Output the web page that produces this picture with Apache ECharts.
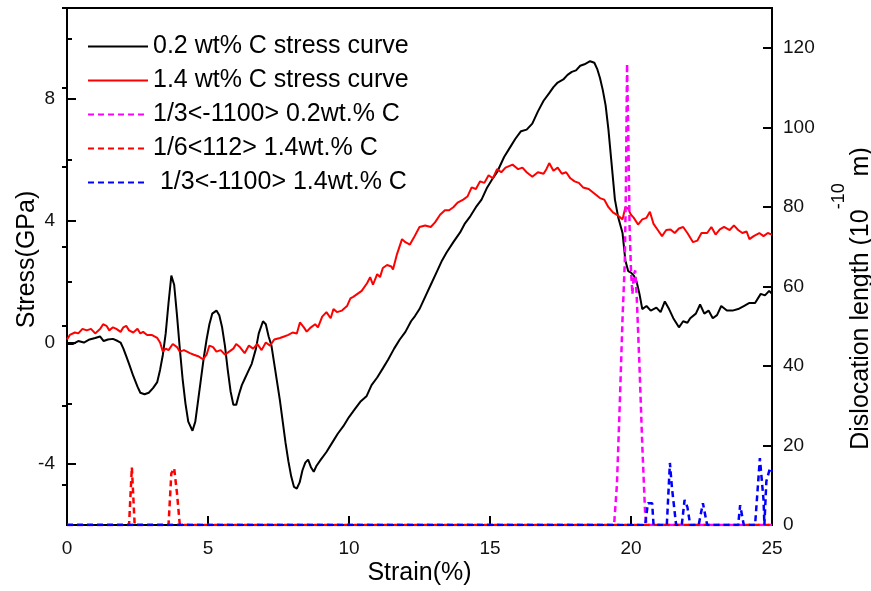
<!DOCTYPE html>
<html>
<head>
<meta charset="utf-8">
<script src="https://cdn.jsdelivr.net/npm/echarts@6/dist/echarts.min.js"></script>
<style>html,body{margin:0;padding:0;background:#fff}#c{width:871px;height:591px}</style>
</head>
<body>
<div id="c"></div>
<script>
// ---- data ----
const seriesNames = ['0.2 wt% C stress curve', '1.4 wt% C stress curve', '1/3<-1100> 0.2wt.% C', '1/6<112> 1.4wt.% C', ' 1/3<-1100> 1.4wt.% C'];

const strainBlack = [0,0.2,0.4,0.6,0.8,1.0,1.17,1.3,1.45,1.63,1.8,1.9,2.0,2.1,2.2,2.35,2.5,2.6,2.75,2.9,3.05,3.2,3.3,3.4,3.5,3.6,3.7,3.8,3.9,4.0,4.1,4.2,4.3,4.45,4.55,4.65,4.75,4.85,4.95,5.05,5.15,5.3,5.4,5.5,5.6,5.7,5.8,5.9,6.0,6.1,6.2,6.3,6.4,6.55,6.7,6.8,6.95,7.05,7.15,7.25,7.35,7.45,7.55,7.65,7.75,7.85,7.95,8.05,8.15,8.25,8.35,8.45,8.55,8.65,8.75,8.85,9.0,9.2,9.4,9.6,9.8,10.0,10.2,10.4,10.62,10.8,11.0,11.2,11.39,11.6,11.8,12.0,12.2,12.34,12.5,12.75,12.9,13.1,13.3,13.46,13.7,13.94,14.1,14.3,14.5,14.7,14.9,15.1,15.25,15.5,15.7,15.9,16.1,16.3,16.5,16.7,16.9,17.1,17.25,17.4,17.6,17.75,17.9,18.05,18.2,18.35,18.55,18.7,18.8,18.9,19.0,19.1,19.2,19.3,19.43,19.55,19.7,19.8,19.9,20.0,20.1,20.2,20.3,20.4,20.55,20.7,20.9,21.05,21.2,21.35,21.5,21.7,21.85,22.0,22.1,22.3,22.45,22.6,22.75,22.9,23.05,23.2,23.4,23.6,23.8,24.0,24.2,24.4,24.6,24.75,24.9,25.0];
const stressBlack = [-0.05,-0.05,0.05,0.0,0.1,0.15,0.2,0.05,0.1,0.12,0.05,0.0,-0.2,-0.45,-0.7,-1.1,-1.45,-1.65,-1.7,-1.65,-1.5,-1.3,-0.9,-0.4,0.3,1.3,2.2,1.9,0.9,-0.2,-1.2,-2.0,-2.6,-2.9,-2.6,-1.9,-1.2,-0.5,0.1,0.6,0.95,1.05,0.9,0.5,-0.1,-0.9,-1.6,-2.05,-2.05,-1.7,-1.4,-1.2,-1.0,-0.7,-0.2,0.3,0.7,0.6,0.2,-0.1,-0.7,-1.3,-1.9,-2.6,-3.3,-3.9,-4.4,-4.75,-4.8,-4.6,-4.2,-3.95,-3.85,-4.1,-4.25,-4.05,-3.85,-3.6,-3.3,-3.0,-2.75,-2.45,-2.2,-1.95,-1.77,-1.4,-1.15,-0.85,-0.56,-0.2,0.1,0.35,0.7,0.87,1.1,1.6,1.9,2.3,2.7,2.96,3.3,3.62,3.9,4.15,4.45,4.7,5.1,5.4,5.6,6.1,6.4,6.7,6.95,7.0,7.2,7.6,7.95,8.2,8.4,8.55,8.65,8.8,8.9,8.95,9.1,9.15,9.25,9.2,9.0,8.7,8.3,7.8,7.0,6.0,4.7,4.1,3.6,2.7,2.35,2.3,2.2,2.0,1.6,1.1,1.2,1.05,1.15,1.0,1.35,1.1,0.8,0.5,0.7,0.65,0.8,0.95,1.25,0.95,1.05,0.8,0.9,1.2,1.05,1.05,1.1,1.2,1.3,1.3,1.6,1.55,1.7,1.6];

const strainRed = [0,0.1,0.28,0.4,0.55,0.7,0.85,1.0,1.06,1.18,1.28,1.4,1.5,1.63,1.75,1.9,2.0,2.1,2.2,2.35,2.5,2.6,2.7,2.84,3.0,3.2,3.3,3.4,3.5,3.6,3.75,3.9,4.0,4.15,4.36,4.5,4.65,4.82,4.95,5.05,5.18,5.3,5.45,5.6,5.75,5.9,6.0,6.13,6.3,6.45,6.6,6.75,6.9,7.05,7.2,7.35,7.55,7.7,7.85,8.0,8.15,8.26,8.4,8.5,8.65,8.8,8.9,9.05,9.2,9.35,9.45,9.57,9.75,9.93,10.05,10.15,10.3,10.45,10.64,10.75,10.85,11.0,11.1,11.2,11.35,11.5,11.56,11.7,11.88,12.0,12.16,12.3,12.5,12.7,12.9,13.05,13.23,13.4,13.55,13.7,13.85,14.05,14.2,14.35,14.5,14.65,14.8,14.95,15.1,15.25,15.4,15.55,15.8,16.0,16.15,16.3,16.5,16.7,16.9,17.0,17.1,17.25,17.4,17.55,17.7,17.85,18.0,18.15,18.3,18.5,18.7,18.9,19.05,19.2,19.36,19.5,19.7,19.8,19.9,20.0,20.1,20.25,20.4,20.55,20.67,20.8,20.95,21.1,21.25,21.4,21.55,21.7,21.85,22.0,22.2,22.35,22.5,22.7,22.85,23.0,23.15,23.3,23.5,23.65,23.8,23.95,24.1,24.2,24.35,24.55,24.7,24.85,25.0];
const stressRed = [0.1,0.25,0.33,0.3,0.45,0.4,0.45,0.3,0.25,0.45,0.6,0.55,0.4,0.5,0.45,0.35,0.5,0.55,0.4,0.33,0.45,0.3,0.35,0.25,0.25,0.15,0.0,-0.3,-0.2,-0.25,-0.05,-0.15,-0.3,-0.25,-0.35,-0.4,-0.45,-0.55,-0.4,-0.1,-0.15,-0.3,-0.25,-0.4,-0.3,-0.2,-0.05,-0.15,-0.35,-0.1,-0.2,-0.05,-0.25,0.0,-0.1,0.1,0.15,0.2,0.25,0.33,0.3,0.66,0.5,0.36,0.5,0.6,0.5,0.85,1.0,0.8,1.1,1.0,1.05,1.2,1.45,1.5,1.6,1.7,1.95,2.15,1.9,2.25,2.15,2.45,2.55,2.5,2.4,2.9,3.4,3.3,3.22,3.45,3.8,3.85,3.8,3.95,4.2,4.35,4.35,4.45,4.6,4.7,4.8,5.1,5.05,5.3,5.25,5.5,5.4,5.7,5.6,5.75,5.85,5.7,5.75,5.6,5.45,5.6,5.55,5.7,5.9,5.65,5.75,5.55,5.6,5.4,5.3,5.25,5.1,5.05,4.9,4.75,4.7,4.45,4.28,4.2,4.05,4.45,4.4,4.2,4.1,3.88,4.05,4.1,4.3,3.9,3.7,3.5,3.7,3.72,3.6,3.75,3.8,3.6,3.3,3.35,3.6,3.6,3.8,3.55,3.72,3.8,3.7,3.85,3.7,3.6,3.65,3.4,3.5,3.6,3.5,3.6,3.55];

const strainMagenta = [0,19.4,19.5,19.6,19.7,19.78,19.82,19.86,19.9,19.95,20.0,20.05,20.1,20.15,20.2,20.3,20.4,20.5,20.55,25];
const dislMagenta   = [0,0,10,30,52,66,85,116,100,75,64,58,63,64,58,40,20,3,0,0];

const strainRedDash = [0,2.2,2.3,2.4,3.6,3.7,3.8,3.9,4.0,25];
const dislRedDash   = [0,0,14.5,0,0,13,14.3,8,0,0];

const strainBlue = [0,20.5,20.6,20.75,20.8,21.27,21.38,21.45,21.6,21.8,21.9,22.0,22.1,22.4,22.55,22.7,23.8,23.87,24.0,24.4,24.57,24.7,24.73,24.8,24.93,25.0];
const dislBlue   = [0,0,5.5,5.5,0,0,15.6,9.5,0,0,6.3,4.5,0,0,5.5,0,0,5,0,0,16.8,6.3,0,11,14.3,13.5];

const xTicks = [0,5,10,15,20,25];
const stressLabels = [-4,0,4,8];
const stressMinor = [-6,-2,2,6,10];
const dislLabels = [0,20,40,60,80,100,120];
const dislMinor = [10,30,50,70,90,110,130];

function zip(a,b){ return a.map((v,i)=>[v,b[i]]); }

const FONT = 'Liberation Sans, Arial, sans-serif';
const chart = echarts.init(document.getElementById('c'), null, {renderer:'canvas'});

const yBase = {
  type:'value', position:'left', min:-6, max:11,
  axisLine:{show:true, onZero:false, lineStyle:{color:'#000', width:2}},
  splitLine:{show:false}
};

chart.setOption({
  animation:false,
  backgroundColor:'#fff',
  textStyle:{fontFamily:FONT},
  grid:{left:67, right:99, top:8, bottom:66, show:true, borderColor:'#000', borderWidth:2, outerBoundsMode:'none'},
  legend:{
    orient:'vertical', left:82, top:29, itemWidth:60, itemHeight:20, itemGap:9,
    selectedMode:false,
    itemStyle:{opacity:0},
    textStyle:{fontSize:25, color:'#000', fontFamily:FONT},
    data:seriesNames
  },
  xAxis:{
    type:'value', min:0, max:25,
    name:'Strain(%)', nameLocation:'middle', nameGap:36, nameMoveOverlap:false,
    nameTextStyle:{fontSize:25, color:'#000', fontFamily:FONT},
    axisLine:{onZero:false, lineStyle:{color:'#000', width:2}},
    axisTick:{show:true, inside:true, length:9, lineStyle:{color:'#000', width:2}, customValues:xTicks},
    axisLabel:{fontSize:19, color:'#111', margin:14, fontFamily:FONT, customValues:xTicks},
    splitLine:{show:false}
  },
  yAxis:[
    Object.assign({}, yBase, {
      name:'Stress(GPa)', nameLocation:'middle', nameGap:27, nameRotate:90, nameMoveOverlap:false,
      nameTextStyle:{fontSize:25, color:'#000', fontFamily:FONT, padding:[0,0,0,14]},
      axisTick:{show:true, inside:true, length:9, lineStyle:{color:'#000', width:2}, customValues:stressLabels},
      axisLabel:{fontSize:19, color:'#111', margin:12, fontFamily:FONT, customValues:stressLabels}
    }),
    Object.assign({}, yBase, {
      axisTick:{show:true, inside:true, length:5, lineStyle:{color:'#000', width:2}, customValues:stressMinor},
      axisLabel:{show:false}
    }),
    {
      type:'value', position:'right', min:0, max:130,
      name:'{a|Dislocation length (10}{b|-10}{a| m)}', nameLocation:'middle', nameGap:58, nameRotate:90, nameMoveOverlap:false,
      nameTextStyle:{color:'#000', fontFamily:FONT, padding:[0,64,0,0],
        rich:{a:{fontSize:25, color:'#000', fontFamily:FONT, lineHeight:44, verticalAlign:'bottom'},
              b:{fontSize:18, color:'#000', fontFamily:FONT, verticalAlign:'top'}}},
      axisLine:{show:true, onZero:false, lineStyle:{color:'#000', width:2}},
      axisTick:{show:true, inside:true, length:9, lineStyle:{color:'#000', width:2}, customValues:dislLabels},
      axisLabel:{fontSize:19, color:'#111', margin:11, fontFamily:FONT, customValues:dislLabels},
      splitLine:{show:false}
    },
    {
      type:'value', position:'right', min:0, max:130,
      axisLine:{show:false},
      axisTick:{show:true, inside:true, length:5, lineStyle:{color:'#000', width:2}, customValues:dislMinor},
      axisLabel:{show:false},
      splitLine:{show:false}
    }
  ],
  series:[
    {name:seriesNames[0], type:'line', yAxisIndex:0, data:zip(strainBlack,stressBlack), showSymbol:false, symbol:'none', smooth:false,
     lineStyle:{color:'#000', width:2}, itemStyle:{color:'#000'}, z:3},
    {name:seriesNames[1], type:'line', yAxisIndex:0, data:zip(strainRed,stressRed), showSymbol:false, symbol:'none',
     lineStyle:{color:'#ff0000', width:2}, itemStyle:{color:'#ff0000'}, z:3},
    {name:seriesNames[2], type:'line', yAxisIndex:2, data:zip(strainMagenta,dislMagenta), showSymbol:false, symbol:'none',
     lineStyle:{color:'#ff00ff', width:2.5, type:[6,4]}, itemStyle:{color:'#ff00ff'}, z:4},
    {name:seriesNames[3], type:'line', yAxisIndex:2, data:zip(strainRedDash,dislRedDash), showSymbol:false, symbol:'none',
     lineStyle:{color:'#ff0000', width:2.5, type:[6,4]}, itemStyle:{color:'#ff0000'}, z:4},
    {name:seriesNames[4], type:'line', yAxisIndex:2, data:zip(strainBlue,dislBlue), showSymbol:false, symbol:'none',
     lineStyle:{color:'#0000ff', width:2.5, type:[6,4]}, itemStyle:{color:'#0000ff'}, z:5}
  ]
});
</script>
</body>
</html>
